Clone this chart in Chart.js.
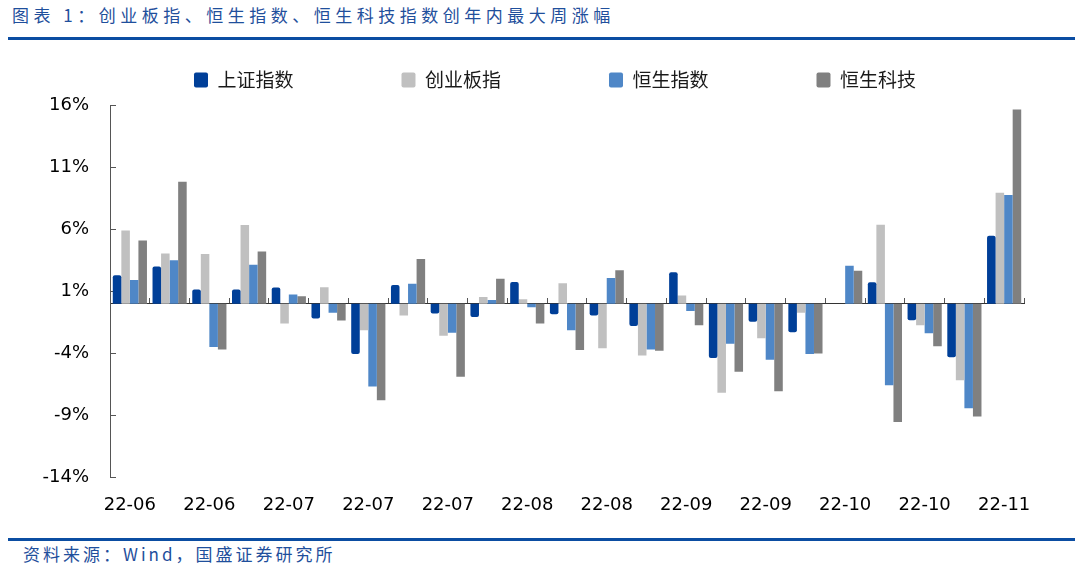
<!DOCTYPE html>
<html lang="zh-CN">
<head>
<meta charset="utf-8">
<title>创业板指、恒生指数、恒生科技指数创年内最大周涨幅</title>
<script src="https://cdn.jsdelivr.net/npm/chart.js@4.4.0/dist/chart.umd.min.js"></script>
<style>
    body { margin: 0; width: 1080px; height: 572px; background: #fff; position: relative; overflow: hidden; }
    .title { position: absolute; left: 12px; top: 3px; font-family: "Noto Sans CJK SC"; font-size: 17px; line-height: 24px; letter-spacing: 4.5px; color: #1F4F9C; white-space: nowrap; }
    .rule { position: absolute; left: 8px; width: 1067px; height: 3px; background: #0B4DA2; }
    .source { position: absolute; left: 23px; top: 543px; font-family: "Noto Sans CJK SC"; font-size: 17px; line-height: 21px; letter-spacing: 3px; color: #1F4F9C; white-space: nowrap; }
    #wrap { position: absolute; left: 0; top: 45px; width: 1080px; height: 490px; }
</style>
</head>
<body>
<div class="title">图表 1：创业板指、恒生指数、恒生科技指数创年内最大周涨幅</div>
<div class="rule" style="top:37px"></div>
<div id="wrap"><canvas id="chart"></canvas></div>
<div class="rule" style="top:538px"></div>
<div class="source">资料来源：Wind，国盛证券研究所</div>
<script>
// ===== Data (weekly change, %) =====

// one entry per week, Fridays from 2022-06-03 to 2022-11-04
const weeks = [
    '22-06', '22-06', '22-06', '22-06',
    '22-07', '22-07', '22-07', '22-07', '22-07',
    '22-08', '22-08', '22-08', '22-08',
    '22-09', '22-09', '22-09', '22-09', '22-09',
    '22-10', '22-10', '22-10', '22-10',
    '22-11'
];

const seriesNames = ['上证指数', '创业板指', '恒生指数', '恒生科技'];

const shanghai = [2.3, 3.0, 1.15, 1.15, 1.3, -1.2, -4.07, 1.5, -0.8, -1.08, 1.75, -0.86, -0.95, -1.8, 2.54, -4.4, -1.46, -2.32, 0, 1.73, -1.35, -4.32, 5.48];
const chinext = [5.9, 4.05, 4.0, 6.35, -1.6, 1.33, -2.15, -0.95, -2.6, 0.54, 0.35, 1.65, -3.6, -4.18, 0.65, -7.2, -2.8, -0.73, 0, 6.37, -1.75, -6.18, 8.96];
const hangSeng = [1.9, 3.5, -3.5, 3.15, 0.73, -0.73, -6.7, 1.6, -2.35, 0.3, -0.3, -2.15, 2.08, -3.7, -0.6, -3.24, -4.53, -4.07, 3.05, -6.6, -2.4, -8.45, 8.78];
const hangSengTech = [5.1, 9.85, -3.7, 4.2, 0.6, -1.37, -7.8, 3.6, -5.9, 2.0, -1.6, -3.75, 2.7, -3.8, -1.75, -5.5, -7.07, -4.02, 2.65, -9.55, -3.45, -9.12, 15.68];

// y axis runs -14% .. 16% in steps of 5
const yMin = -14;
const yMax = 16;
const yStep = 5;

const colors = ['#003F98', '#C0C0C0', '#4F87C7', '#808080'];

// legend in the reference sits a little higher above the plot than Chart.js leaves room for
const legendGap = {
    id: 'legendGap',
    beforeLayout(chart) {
        const legend = chart.legend;
        if (!legend || legend._gapPatched) return;
        const fit = legend.fit;
        legend.fit = function () {
            fit.call(this);
            this.height += 6;
        };
        legend._gapPatched = true;
    }
};

function makeDataset(i, values) {
    return {
        label: seriesNames[i],
        data: values,
        backgroundColor: colors[i],
        borderRadius: i === 0 ? 2 : 0,
        categoryPercentage: 0.86,
        barPercentage: 1.0
    };
}

const tickFont = { family: 'DejaVu Sans', size: 18 };

new Chart(document.getElementById('chart'), {
    type: 'bar',
    data: {
        labels: weeks,
        datasets: [
            makeDataset(0, shanghai),
            makeDataset(1, chinext),
            makeDataset(2, hangSeng),
            makeDataset(3, hangSengTech)
        ]
    },
    options: {
        responsive: true,
        maintainAspectRatio: false,
        animation: false,
        layout: {
            padding: { top: -82.5, left: 15.5, right: 56, bottom: 0.4 }
        },
        plugins: {
            legend: {
                position: 'top',
                align: 'end',
                labels: {
                    boxWidth: 14,
                    boxHeight: 15,
                    useBorderRadius: true,
                    borderRadius: 2,
                    padding: 108,
                    color: '#1a1a1a',
                    font: { family: 'Noto Sans CJK SC', size: 19 }
                }
            },
            tooltip: { enabled: false }
        },
        scales: {
            x: {
                grid: { display: false, drawTicks: false },
                border: { display: false },
                ticks: {
                    autoSkip: false,
                    maxRotation: 0,
                    minRotation: 0,
                    padding: 18,
                    color: '#000',
                    font: tickFont,
                    callback: function (value, index) {
                        return index % 2 === 0 ? this.getLabelForValue(value) : '';
                    }
                }
            },
            // zero line with small marks between weeks
            x0: {
                type: 'category',
                axis: 'x',
                position: { y: 0 },
                offset: true,
                ticks: { display: false },
                grid: {
                    offset: true,
                    drawOnChartArea: false,
                    tickLength: -6,
                    color: '#555'
                },
                border: { color: '#333', width: 1 }
            },
            y: {
                min: yMin,
                max: yMax,
                grid: {
                    drawOnChartArea: false,
                    tickLength: -6,
                    color: '#555'
                },
                border: { color: '#555' },
                ticks: {
                    stepSize: yStep,
                    padding: 27,
                    color: '#000',
                    font: tickFont,
                    callback: value => Math.round(value) + '%'
                }
            }
        }
    },
    plugins: [legendGap]
});
</script>
</body>
</html>
